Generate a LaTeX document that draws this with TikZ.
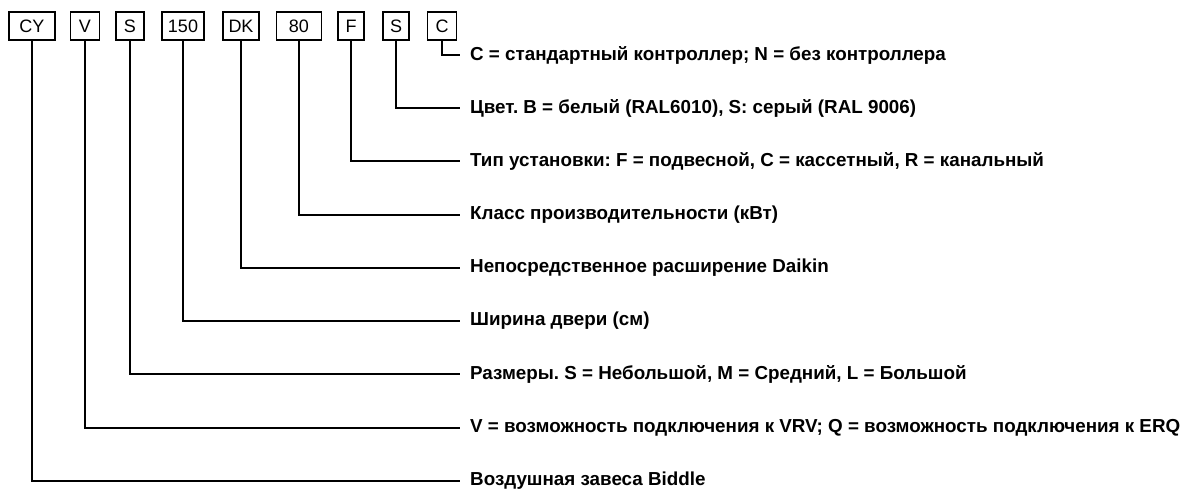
\documentclass[tikz,border=0pt]{standalone}
\usepackage{fontspec}
\setmainfont{Liberation Sans}
\frenchspacing
\begin{document}
\begin{tikzpicture}[x=1pt,y=-1pt,
  codebox/.style={draw,line width=1.5pt,minimum height=28pt,inner sep=0pt,font=\fontsize{18}{20}\selectfont},
  desc/.style={anchor=west,inner xsep=10pt,inner ysep=0pt,font=\fontsize{18.8}{21}\selectfont\bfseries},
  conn/.style={line width=2pt}]
\useasboundingbox (0,0) rectangle (1184,492);
\node[codebox,minimum width=46pt] (cy) at (32,26) {CY};
\node[codebox,minimum width=29pt] (v) at (85,26) {V};
\node[codebox,minimum width=28pt] (s1) at (130,26) {S};
\node[codebox,minimum width=42pt] (w) at (183,26) {150};
\node[codebox,minimum width=36pt] (dk) at (241,26) {DK};
\node[codebox,minimum width=45pt] (cap) at (299,26) {80};
\node[codebox,minimum width=26pt] (f) at (351,26) {F};
\node[codebox,minimum width=26pt] (s2) at (396,26) {S};
\node[codebox,minimum width=29pt] (c) at (442,26) {C};

\node[desc] (tc) at (460,55) {C = стандартный контроллер; N = без контроллера};
\node[desc] (ts2) at (460,108) {Цвет. B = белый (RAL6010), S: серый (RAL 9006)};
\node[desc] (tf) at (460,161) {Тип установки: F = подвесной, C = кассетный, R = канальный};
\node[desc] (tcap) at (460,215) {Класс производительности (кВт)};
\node[desc] (tdk) at (460,268) {Непосредственное расширение Daikin};
\node[desc] (tw) at (460,321) {Ширина двери (см)};
\node[desc] (ts1) at (460,374) {Размеры. S = Небольшой, M = Средний, L = Большой};
\node[desc] (tv) at (460,428) {V = возможность подключения к VRV; Q = возможность подключения к ERQ};
\node[desc] (tcy) at (460,481) {Воздушная завеса Biddle};

\draw[conn] (c.south) |- (tc.west);
\draw[conn] (s2.south) |- (ts2.west);
\draw[conn] (f.south) |- (tf.west);
\draw[conn] (cap.south) |- (tcap.west);
\draw[conn] (dk.south) |- (tdk.west);
\draw[conn] (w.south) |- (tw.west);
\draw[conn] (s1.south) |- (ts1.west);
\draw[conn] (v.south) |- (tv.west);
\draw[conn] (cy.south) |- (tcy.west);
\end{tikzpicture}
\end{document}
